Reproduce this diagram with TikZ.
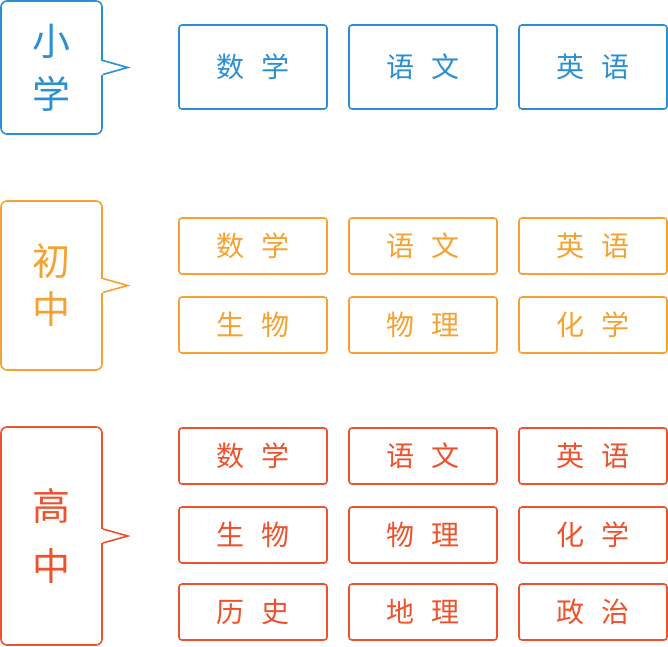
\documentclass[tikz,border=0pt]{standalone}
\usepackage{fontspec}
\setmainfont{Noto Sans CJK SC}
\usepackage{xcolor}
\usetikzlibrary{positioning, calc}
\definecolor{xxblue}{HTML}{2B8FD3}
\definecolor{czorange}{HTML}{F4A232}
\definecolor{gzred}{HTML}{EE522D}
\tikzset{
  stagebox/.style={draw=#1, text=#1, line width=1.6pt, rounded corners=6pt,
    minimum width=101pt, inner sep=0pt, align=center,
    font=\fontsize{38}{40}\selectfont},
  subjbox/.style={draw=#1, text=#1, line width=1.6pt, rounded corners=3pt,
    minimum width=148pt, inner sep=0pt,
    font=\fontsize{28}{28}\selectfont},
}
\newcommand{\twochars}[2]{#1\hspace{17pt}#2}

\begin{document}
\begin{tikzpicture}[x=1pt, y=-1pt]
    \useasboundingbox (0,0) rectangle (668,646);

    % stage bubbles
    \node[stagebox=xxblue, minimum height=133pt] (xiaoxue) at (51.5,67.5) {小\\[13pt]学};
    \node[stagebox=czorange, minimum height=169pt] (chuzhong) at (51.5,285.5) {初\\[8pt]中};
    \node[stagebox=gzred, minimum height=218pt] (gaozhong) at (51.5,536) {高\\[20pt]中};

    % bubble pointers
    \foreach \stg/\col in {xiaoxue/xxblue, chuzhong/czorange, gaozhong/gzred}{
      \fill[white] ($(\stg.east)+(-2,-7)$) rectangle ($(\stg.east)+(2,7)$);
      \draw[\col, line width=1.6pt, line join=miter]
        ($(\stg.east)+(0,-7)$) -- ($(\stg.east)+(25,0)$) -- ($(\stg.east)+(0,7)$);
    }

    % xiaoxue subjects
    \node[subjbox=xxblue, minimum height=84pt] (xx-math) at (253,67) {\twochars{数}{学}};
    \node[subjbox=xxblue, minimum height=84pt] (xx-chinese) at (423,67) {\twochars{语}{文}};
    \node[subjbox=xxblue, minimum height=84pt] (xx-english) at (593,67) {\twochars{英}{语}};

    % chuzhong subjects
    \node[subjbox=czorange, minimum height=56pt] (cz-math) at (253,246) {\twochars{数}{学}};
    \node[subjbox=czorange, minimum height=56pt] (cz-chinese) at (423,246) {\twochars{语}{文}};
    \node[subjbox=czorange, minimum height=56pt] (cz-english) at (593,246) {\twochars{英}{语}};
    \node[subjbox=czorange, minimum height=56pt] (cz-bio) at (253,325) {\twochars{生}{物}};
    \node[subjbox=czorange, minimum height=56pt] (cz-phys) at (423,325) {\twochars{物}{理}};
    \node[subjbox=czorange, minimum height=56pt] (cz-chem) at (593,325) {\twochars{化}{学}};

    % gaozhong subjects
    \node[subjbox=gzred, minimum height=56pt] (gz-math) at (253,456) {\twochars{数}{学}};
    \node[subjbox=gzred, minimum height=56pt] (gz-chinese) at (423,456) {\twochars{语}{文}};
    \node[subjbox=gzred, minimum height=56pt] (gz-english) at (593,456) {\twochars{英}{语}};
    \node[subjbox=gzred, minimum height=56pt] (gz-bio) at (253,535) {\twochars{生}{物}};
    \node[subjbox=gzred, minimum height=56pt] (gz-phys) at (423,535) {\twochars{物}{理}};
    \node[subjbox=gzred, minimum height=56pt] (gz-chem) at (593,535) {\twochars{化}{学}};
    \node[subjbox=gzred, minimum height=56pt] (gz-hist) at (253,612) {\twochars{历}{史}};
    \node[subjbox=gzred, minimum height=56pt] (gz-geo) at (423,612) {\twochars{地}{理}};
    \node[subjbox=gzred, minimum height=56pt] (gz-pol) at (593,612) {\twochars{政}{治}};
  \end{tikzpicture}
\end{document}
